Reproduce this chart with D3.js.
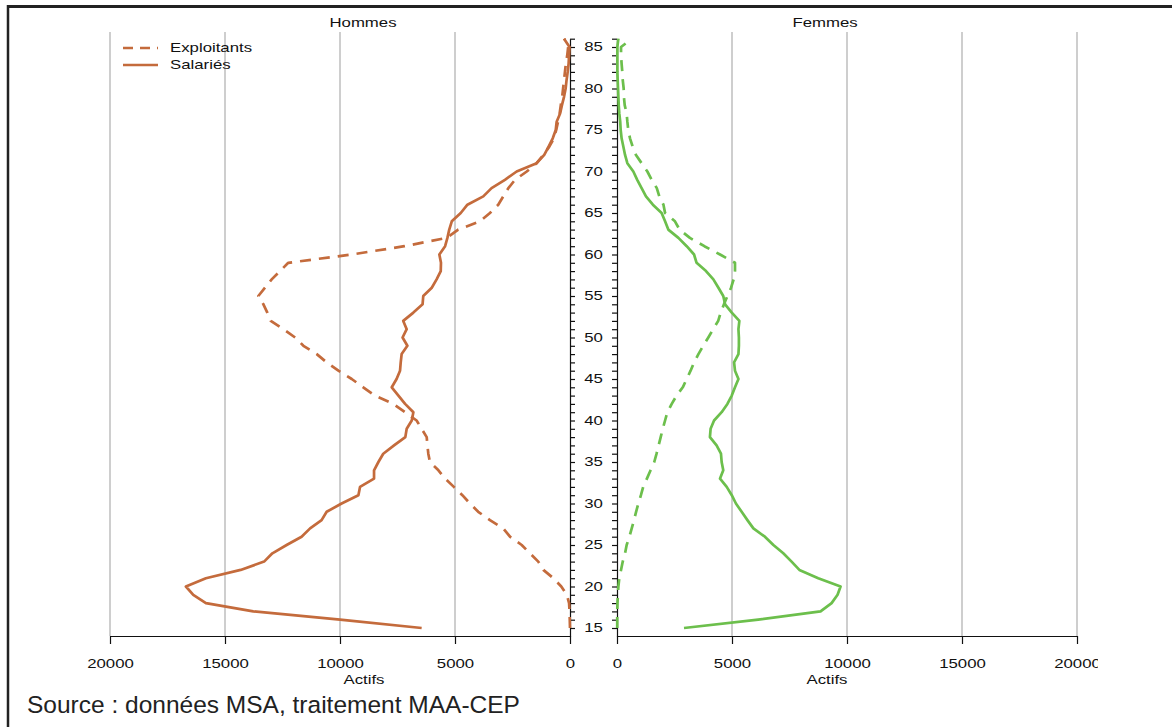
<!DOCTYPE html>
<html>
<head>
<meta charset="utf-8">
<script src="https://cdn.jsdelivr.net/npm/d3@7"></script>
<style>
  html, body { margin: 0; padding: 0; background: #fff; }
  svg { display: block; font-family: "Liberation Sans", Arial, sans-serif; }
</style>
</head>
<body>
<svg id="chart" width="1172" height="727"></svg>
<script>
// ---------------- DATA ----------------
const ages = d3.range(15, 87); // 15 .. 86

const hommesExploitants = [0,10,20,40,140,380,725,1160,1380,1740,2100,2610,2900,3480,3990,4350,4680,5050,5430,5720,6090,6160,6200,6230,6450,6670,7170,7680,8480,8990,9490,10070,10580,11010,11590,11950,12460,13010,13160,13330,13550,13260,12970,12610,12250,9500,7200,5360,4860,3910,3480,3120,2900,2680,2390,1880,1450,1160,900,700,600,520,450,400,340,300,260,220,180,120,80,250];

const hommesSalaries = [6450,10000,13770,15830,16380,16700,15830,14320,13300,12940,12320,11670,11300,10800,10580,9930,9200,9130,8520,8520,8330,8120,7650,7160,7100,6880,6810,7170,7460,7750,7540,7390,7360,7320,7070,7280,7100,7250,6810,6410,6380,6010,5800,5620,5610,5680,5430,5330,5250,5140,4750,4460,3770,3410,2830,2320,1450,1120,930,750,620,580,430,350,260,190,150,100,60,40,20,260];

const femmesExploitants = [10,10,10,20,40,60,100,175,250,350,420,540,640,740,830,930,1040,1140,1300,1460,1620,1720,1810,1900,1990,2090,2190,2380,2590,2860,3030,3200,3350,3540,3750,3970,4180,4400,4510,4650,4800,4960,5070,5130,5130,4480,3800,3170,2720,2520,2090,2020,1840,1730,1510,1320,1070,825,680,565,490,450,420,335,300,290,250,230,200,175,175,640];

const femmesSalaries = [2913,6140,8850,9330,9590,9720,8750,7930,7590,7230,6800,6430,5930,5670,5420,5170,4990,4770,4480,4620,4550,4520,4330,4040,4070,4220,4550,4800,4990,5130,5280,5130,5090,5280,5300,5300,5280,5320,4990,4700,4620,4410,4190,3870,3460,3350,3030,2670,2230,2090,1940,1560,1260,1070,880,710,450,350,275,200,160,140,100,75,60,45,30,15,15,15,15,60];

const xTicks = [0, 5000, 10000, 15000, 20000];
const ageLabels = [15, 20, 25, 30, 35, 40, 45, 50, 55, 60, 65, 70, 75, 80, 85];
const panelTitles = ["Hommes", "Femmes"];
const seriesNames = ["Exploitants", "Salariés"];
const axisTitle = "Actifs";
const sourceText = "Source : données MSA, traitement MAA-CEP";

// ---------------- LAYOUT ----------------
const ORANGE = "#c46b3c";
const GREEN = "#6cbf4c";
const GRID = "#b4b4b4";
const SX = 1.4;      // horizontal stretch of chart texts
const FS = 12;       // chart font size
const DASH = "11,8";

const svg = d3.select("#chart");

const y = d3.scaleLinear().domain([14, 86]).range([636.3, 38.7]);
const xL = d3.scaleLinear().domain([20000, 0]).range([110, 570]);
const xR = d3.scaleLinear().domain([0, 20000]).range([617, 1077]);
const axisY = 636;
const gridTop = 32;

function stext(sel, x, yy, str, anchor, size) {
  return sel.append("text")
    .attr("transform", `translate(${x},${yy}) scale(${SX},1)`)
    .attr("text-anchor", anchor)
    .style("font-size", size + "px")
    .attr("fill", "#111")
    .text(str);
}

// frame
svg.append("line").attr("x1", 7).attr("x2", 1172).attr("y1", 6.5).attr("y2", 6.5)
  .attr("stroke", "#222").attr("stroke-width", 3);
svg.append("line").attr("x1", 8).attr("x2", 8).attr("y1", 5).attr("y2", 727)
  .attr("stroke", "#222").attr("stroke-width", 2.5);

// clip for right panel (label 20000 is cut)
svg.append("defs").append("clipPath").attr("id", "clipR")
  .append("rect").attr("x", 0).attr("y", 0).attr("width", 1098).attr("height", 727);

// gridlines
const grid = svg.append("g");
xTicks.filter(d => d > 0).forEach(d => {
  grid.append("line").attr("x1", xL(d)).attr("x2", xL(d)).attr("y1", gridTop).attr("y2", axisY)
    .attr("stroke", GRID).attr("stroke-width", 1.3);
  grid.append("line").attr("x1", xR(d)).attr("x2", xR(d)).attr("y1", gridTop).attr("y2", axisY)
    .attr("stroke", GRID).attr("stroke-width", 1.3);
});

// bottom axes
function styleXAxis(g) {
  g.attr("font-family", null).attr("font-size", null);
  g.select(".domain").attr("stroke", "#111").attr("stroke-width", 1.2);
  g.selectAll(".tick line").attr("stroke", "#111").attr("stroke-width", 1.2);
  g.selectAll(".tick text")
    .attr("fill", "#111")
    .style("font-size", FS + "px")
    .attr("transform", `scale(${SX},1)`);
}
const axL = svg.append("g").attr("transform", `translate(0,${axisY})`)
  .call(d3.axisBottom(xL).tickValues(xTicks).tickFormat(d3.format("d")).tickSize(8).tickSizeOuter(0).tickPadding(15));
styleXAxis(axL);
const axR = svg.append("g").attr("transform", `translate(0,${axisY})`).attr("clip-path", "url(#clipR)")
  .call(d3.axisBottom(xR).tickValues(xTicks).tickFormat(d3.format("d")).tickSize(8).tickSizeOuter(0).tickPadding(15));
styleXAxis(axR);

// vertical age axes
function styleYAxis(g) {
  g.select(".domain").attr("stroke", "#111").attr("stroke-width", 1.2);
  g.selectAll(".tick line").attr("stroke", "#111").attr("stroke-width", 1.2);
}
const ayL = svg.append("g").attr("transform", `translate(570,0)`)
  .call(d3.axisRight(y).tickValues(ages).tickFormat("").tickSize(5).tickSizeOuter(0));
styleYAxis(ayL);
const ayR = svg.append("g").attr("transform", `translate(617,0)`)
  .call(d3.axisLeft(y).tickValues(ages).tickFormat("").tickSize(5).tickSizeOuter(0));
styleYAxis(ayR);

// age labels
ageLabels.forEach(a => {
  stext(svg, 593.5, y(a) + 4.3, String(a), "middle", FS);
});

// titles
stext(svg, 363, 27, panelTitles[0], "middle", FS);
stext(svg, 825, 27, panelTitles[1], "middle", FS);
stext(svg, 364, 684, axisTitle, "middle", FS);
stext(svg, 827, 684, axisTitle, "middle", FS);

// lines
function drawLine(vals, xs, color, dashed) {
  const line = d3.line().x((d, i) => xs(d)).y((d, i) => y(ages[i]));
  svg.append("path").datum(vals)
    .attr("d", line)
    .attr("fill", "none")
    .attr("stroke", color)
    .attr("stroke-width", 2.7)
    .attr("stroke-linejoin", "round")
    .attr("stroke-dasharray", dashed ? DASH : null);
}
drawLine(hommesSalaries, xL, ORANGE, false);
drawLine(hommesExploitants, xL, ORANGE, true);
drawLine(femmesSalaries, xR, GREEN, false);
drawLine(femmesExploitants, xR, GREEN, true);

// legend
const leg = svg.append("g");
leg.append("line").attr("x1", 123).attr("x2", 158).attr("y1", 48).attr("y2", 48)
  .attr("stroke", ORANGE).attr("stroke-width", 2.7).attr("stroke-dasharray", "10,7");
leg.append("line").attr("x1", 123).attr("x2", 158).attr("y1", 65).attr("y2", 65)
  .attr("stroke", ORANGE).attr("stroke-width", 2.7);
stext(leg, 170, 52.3, seriesNames[0], "start", FS);
stext(leg, 170, 69.3, seriesNames[1], "start", FS);

// source
svg.append("text").attr("x", 27).attr("y", 713)
  .style("font-size", "24.5px").attr("fill", "#222")
  .text(sourceText);
</script>
</body>
</html>
